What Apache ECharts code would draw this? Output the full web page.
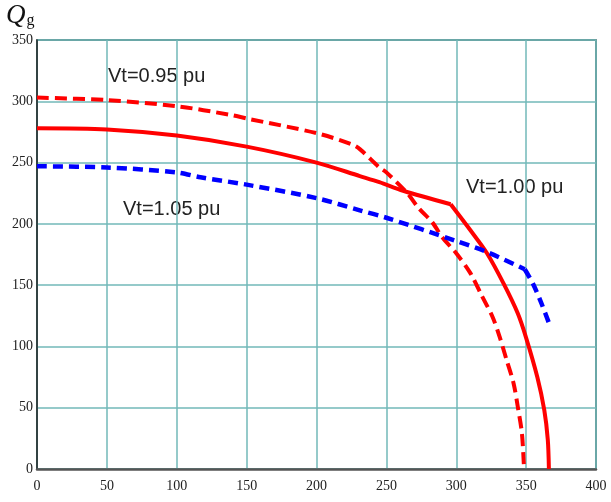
<!DOCTYPE html>
<html><head><meta charset="utf-8">
<script src="https://cdn.jsdelivr.net/npm/echarts@6/dist/echarts.min.js"></script>
<style>html,body{margin:0;padding:0;background:#fff}#c{width:611px;height:502px}</style>
</head><body><div id="c"></div>
<script>
const xTicks = [0, 50, 100, 150, 200, 250, 300, 350, 400];
const yTicks = [0, 50, 100, 150, 200, 250, 300, 350];
const curveLabels = ['Vt=0.95 pu', 'Vt=1.00 pu', 'Vt=1.05 pu'];
const vt095 = [[0,303],[50,301],[100,296],[138,289],[150,286],[200,274],[225,265],[231,261],[245,246],[250,242],[265,225],[273,213],[283,201],[290,189],[300,176],[310,160],[318,142],[326,124],[331,108],[336,89],[341,70],[344,51],[347,29],[348.5,0]];
const vt100 = [[0,278],[50,277],[100,272],[150,263],[200,250],[231,239],[245,234],[262,227],[296,216],[310,195],[322,176],[334,151],[344,127],[350,107],[358,75],[363,48],[365.5,24],[366.3,0]];
const vt105 = [[0,247],[50,246],[100,242],[117,238],[150,232],[200,221],[231,211],[250,205],[300,186],[322,177],[349,163],[355,151],[361,135],[367,117]];
// x positions where the curves have a corner
const kink100 = 296;
const kink105 = 349;

function splitAt(data, kx) {
  const i = data.findIndex(p => p[0] === kx);
  return [data.slice(0, i + 1), data.slice(i)];
}
const [a100, b100] = splitAt(vt100, kink100);
const [a105, b105] = splitAt(vt105, kink105);

const chart = echarts.init(document.getElementById('c'), null, {renderer: 'canvas'});
const serif = '"Liberation Serif", "Times New Roman", serif';
const sans = '"Liberation Sans", Arial, sans-serif';
const red = '#ff0000', blue = '#0000ff';
function seg(name, data, color, width, type) {
  return {name, type: 'line', data, symbol: 'none', smooth: 0.3,
    lineStyle: {color, width, type, cap: 'butt', join: 'round'}};
}
chart.setOption({
  animation: false,
  backgroundColor: '#fff',
  grid: {left: 37, top: 40, right: 15, bottom: 33, show: true, borderColor: '#1f4a4a', borderWidth: 1.5, backgroundColor: 'transparent'},
  xAxis: {
    type: 'value', min: 0, max: 400, interval: 50,
    axisLine: {show: true, onZero: false, lineStyle: {color: '#555', width: 2.5}},
    axisTick: {show: false},
    splitLine: {show: true, lineStyle: {color: '#72b8b8', width: 1.5}},
    axisLabel: {color: '#222', fontFamily: serif, fontSize: 14, margin: 10,
      formatter: v => xTicks.includes(v) ? String(v) : ''}
  },
  yAxis: {
    type: 'value', min: 0, max: 350, interval: 50,
    axisLine: {show: true, onZero: false, lineStyle: {color: '#222', width: 1.5}},
    axisTick: {show: false},
    splitLine: {show: true, lineStyle: {color: '#72b8b8', width: 1.5}},
    axisLabel: {color: '#222', fontFamily: serif, fontSize: 14, margin: 4,
      formatter: v => yTicks.includes(v) ? String(v) : ''}
  },
  series: [
    seg(curveLabels[0], vt095, red, 4, [12, 6]),
    seg(curveLabels[1], a100, red, 4, 'solid'),
    seg(curveLabels[1], b100, red, 4, 'solid'),
    seg(curveLabels[2], a105, blue, 4.5, [10, 6]),
    seg(curveLabels[2], b105, blue, 4.5, [10, 6])
  ],
  graphic: [
    {type: 'text', left: 6, top: 2, style: {text: '{q|Q}{g|g}', rich: {
      q: {fontFamily: serif, fontStyle: 'italic', fontSize: 27, fill: '#111'},
      g: {fontFamily: serif, fontSize: 16, fill: '#111', padding: [10, 0, 0, 1]}
    }}},
    {type: 'text', left: 108, top: 66, style: {text: curveLabels[0], font: '20px ' + sans, fill: '#222'}},
    {type: 'text', left: 466, top: 177, style: {text: curveLabels[1], font: '20px ' + sans, fill: '#222'}},
    {type: 'text', left: 123, top: 199, style: {text: curveLabels[2], font: '20px ' + sans, fill: '#222'}}
  ]
});
</script></body></html>
